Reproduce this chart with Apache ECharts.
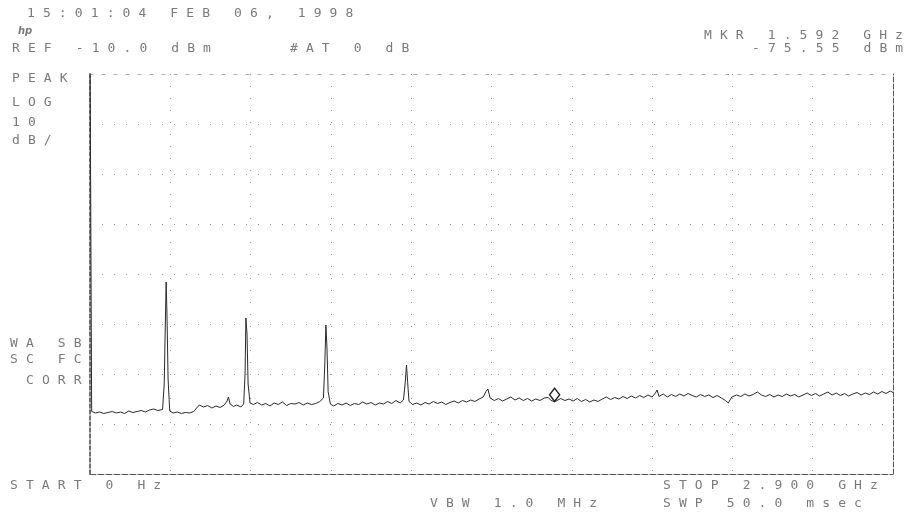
<!DOCTYPE html>
<html>
<head>
<meta charset="utf-8">
<title>Spectrum</title>
<script src="https://cdn.jsdelivr.net/npm/echarts@6/dist/echarts.min.js"></script>
<style>
  html, body { margin: 0; padding: 0; background: #fff; }
  .wrap { position: relative; width: 910px; height: 520px; }
  .chart { position: absolute; left: 0; top: 0; width: 910px; height: 520px; }
  .lbl {
    position: absolute;
    font-family: 'DejaVu Sans Mono', monospace;
    font-size: 13px;
    line-height: 16px;
    color: #7a7a7a;
    letter-spacing: 8.1px;
    white-space: pre;
  }
  .hp { font-family: 'DejaVu Sans', sans-serif; font-style: italic; font-weight: bold; font-size: 10px; letter-spacing: 0; }
</style>
</head>
<body>
<div class="wrap">
  <div class="chart"></div>
</div>
<script>
// axis ranges (GHz, dBm)
var startGHz = 0
var stopGHz = 2.9
var refDbm = -10
var bottomDbm = -90

// trace
var freqGHz = [
  0.000, 0.006, 0.020, 0.035, 0.050, 0.065, 0.080, 0.095, 0.110, 0.125,
  0.140, 0.155, 0.170, 0.185, 0.200, 0.215, 0.230, 0.245, 0.262, 0.268,
  0.272, 0.275, 0.278, 0.282, 0.288, 0.300, 0.315, 0.330, 0.345, 0.360,
  0.375, 0.385, 0.395, 0.410, 0.425, 0.440, 0.455, 0.470, 0.485, 0.495,
  0.500, 0.506, 0.518, 0.530, 0.545, 0.555, 0.560, 0.563, 0.567, 0.571,
  0.578, 0.590, 0.605, 0.620, 0.635, 0.650, 0.665, 0.680, 0.695, 0.710,
  0.725, 0.740, 0.755, 0.770, 0.785, 0.800, 0.815, 0.830, 0.843, 0.848,
  0.852, 0.856, 0.860, 0.868, 0.880, 0.895, 0.910, 0.925, 0.940, 0.955,
  0.970, 0.985, 1.000, 1.015, 1.030, 1.045, 1.060, 1.075, 1.090, 1.105,
  1.120, 1.132, 1.138, 1.143, 1.147, 1.152, 1.165, 1.180, 1.195, 1.210,
  1.225, 1.240, 1.255, 1.270, 1.285, 1.300, 1.315, 1.330, 1.345, 1.360,
  1.375, 1.390, 1.405, 1.420, 1.430, 1.437, 1.445, 1.460, 1.475, 1.490,
  1.505, 1.520, 1.535, 1.550, 1.565, 1.580, 1.595, 1.610, 1.625, 1.640,
  1.655, 1.665, 1.678, 1.690, 1.700, 1.715, 1.730, 1.745, 1.760, 1.775,
  1.790, 1.805, 1.820, 1.835, 1.850, 1.865, 1.880, 1.895, 1.910, 1.925,
  1.940, 1.955, 1.970, 1.985, 2.000, 2.015, 2.030, 2.042, 2.048, 2.055,
  2.070, 2.085, 2.100, 2.115, 2.130, 2.145, 2.160, 2.175, 2.190, 2.205,
  2.220, 2.235, 2.250, 2.265, 2.280, 2.295, 2.305, 2.318, 2.335, 2.350,
  2.365, 2.380, 2.395, 2.410, 2.425, 2.440, 2.455, 2.470, 2.485, 2.500,
  2.515, 2.530, 2.545, 2.560, 2.575, 2.590, 2.605, 2.620, 2.635, 2.650,
  2.665, 2.680, 2.695, 2.710, 2.725, 2.740, 2.755, 2.770, 2.785, 2.800,
  2.815, 2.830, 2.845, 2.860, 2.875, 2.890, 2.900
]
var levelDbm = [
  -4.0, -77.5, -77.8, -77.6, -77.9, -77.7, -77.5, -77.8, -77.6, -77.9,
  -77.4, -77.7, -77.5, -77.3, -77.6, -77.2, -77.0, -77.3, -77.1, -72.0,
  -60.0, -51.6, -58.0, -71.0, -77.4, -77.8, -77.6, -77.9, -77.7, -77.8,
  -77.5, -76.8, -76.2, -76.6, -76.3, -76.8, -76.4, -76.7, -76.2, -75.4,
  -74.6, -76.0, -76.5, -76.2, -76.6, -76.0, -70.0, -58.8, -62.0, -72.0,
  -75.8, -76.1, -75.7, -76.2, -75.9, -76.4, -75.8, -76.1, -75.6, -76.3,
  -75.9, -76.0, -75.7, -76.2, -75.8, -76.1, -75.9, -75.5, -74.8, -68.0,
  -60.2, -65.0, -73.5, -76.0, -76.4, -75.9, -76.2, -75.8, -76.3, -75.9,
  -76.1, -75.6, -76.0, -75.7, -76.2, -75.8, -76.0, -75.5, -75.9, -75.3,
  -75.8, -75.2, -72.0, -68.2, -71.5, -75.5, -76.1, -75.8, -76.2, -75.7,
  -76.0, -75.5, -75.9, -75.6, -76.1, -75.7, -75.4, -75.8, -75.3, -75.6,
  -75.2, -75.5, -75.0, -74.6, -73.5, -73.0, -74.8, -75.3, -74.9, -75.4,
  -75.0, -74.6, -75.2, -74.8, -75.3, -74.9, -75.4, -75.0, -75.3, -74.8,
  -74.7, -75.3, -75.55, -75.2, -74.9, -75.3, -75.0, -75.4, -74.9, -75.5,
  -75.1, -75.6, -75.2, -75.5, -75.0, -74.6, -75.1, -74.7, -75.0, -74.5,
  -74.9, -74.4, -74.8, -74.3, -74.7, -74.2, -74.6, -73.8, -73.2, -74.5,
  -74.0, -74.6, -74.1, -74.5, -74.0, -74.4, -73.9, -74.3, -74.6, -74.1,
  -74.5, -74.2, -74.7, -74.3, -74.8, -75.3, -75.8, -74.6, -74.2, -74.5,
  -74.0, -74.4, -74.1, -73.6, -74.2, -74.5, -74.1, -74.6, -74.2, -74.5,
  -74.0, -74.4, -74.1, -74.6, -74.2, -73.8, -74.3, -73.9, -74.4, -74.0,
  -73.6, -74.2, -73.8, -74.3, -73.9, -74.4, -74.0, -73.7, -74.2, -73.8,
  -74.1, -73.6, -74.0, -73.5, -73.9, -73.4, -73.7
]

// marker
var markerGHz = 1.678
var markerDbm = -75.55

// annotation texts
var labels = [
  ['15:01:04 FEB 06, 1998', 27, 5],
  ['REF -10.0 dBm', 12, 40],
  ['#AT 0 dB', 290, 40],
  ['MKR 1.592 GHz', 704, 27],
  ['-75.55 dBm', 752, 40],
  ['PEAK', 12, 70],
  ['LOG', 12, 94],
  ['10', 12, 114],
  ['dB/', 12, 132],
  ['WA SB', 10, 335],
  ['SC FC', 10, 351],
  ['CORR', 26, 372],
  ['START 0 Hz', 10, 477],
  ['STOP 2.900 GHz', 663, 477],
  ['VBW 1.0 MHz', 430, 495],
  ['SWP 50.0 msec', 663, 495]
];

(function () {
  var wrap = document.querySelector('.wrap')
  labels.forEach(function (item) {
    var div = document.createElement('div')
    div.className = 'lbl'
    div.textContent = item[0]
    div.style.left = item[1] + 'px'
    div.style.top = item[2] + 'px'
    wrap.appendChild(div)
  })
  var hp = document.createElement('div')
  hp.className = 'lbl hp'
  hp.textContent = 'hp'
  hp.style.left = '18px'
  hp.style.top = '23px'
  wrap.appendChild(hp)
})();

(function () {
  var trace = freqGHz.map(function (f, i) { return [f, levelDbm[i]] })
  var dots = { color: '#9a9a9a', width: 1, type: [1, 11] }
  var option = {
    animation: false,
    backgroundColor: '#fff',
    grid: { left: 90, right: 17, top: 74, bottom: 46 },
    xAxis: [
      {
        type: 'value', min: startGHz, max: stopGHz, interval: 0.29,
        axisLine: { show: true, onZero: false, lineStyle: { color: '#555', width: 1, type: [6, 2] } },
        axisTick: { show: false },
        axisLabel: { show: false },
        splitLine: { show: true, lineStyle: dots }
      },
      {
        type: 'value', position: 'top', min: startGHz, max: stopGHz,
        axisLine: { show: true, onZero: false, lineStyle: { color: '#aaa', width: 1, type: [3, 9] } },
        axisTick: { show: false },
        axisLabel: { show: false },
        splitLine: { show: false }
      }
    ],
    yAxis: [
      {
        type: 'value', min: bottomDbm, max: refDbm, interval: 10,
        axisLine: { show: true, onZero: false, lineStyle: { color: '#444', width: 1.5, type: [4, 2] } },
        axisTick: { show: false },
        axisLabel: { show: false },
        splitLine: { show: true, lineStyle: dots }
      },
      {
        type: 'value', position: 'right', min: bottomDbm, max: refDbm,
        axisLine: { show: true, onZero: false, lineStyle: { color: '#555', width: 1, type: [5, 2] } },
        axisTick: { show: false },
        axisLabel: { show: false },
        splitLine: { show: false }
      }
    ],
    series: [
      {
        type: 'line',
        data: trace,
        showSymbol: false,
        clip: true,
        lineStyle: { color: '#2a2a2a', width: 1 },
        markPoint: {
          symbol: 'diamond',
          symbolSize: [10, 13],
          symbolOffset: [0, -7],
          itemStyle: { color: 'rgba(0,0,0,0)', borderColor: '#222', borderWidth: 1.5 },
          label: { show: false },
          data: [{ coord: [markerGHz, markerDbm] }]
        }
      }
    ]
  }
  var myChart = echarts.init(document.querySelector('.chart'))
  myChart.setOption(option)
})();
</script>
</body>
</html>
